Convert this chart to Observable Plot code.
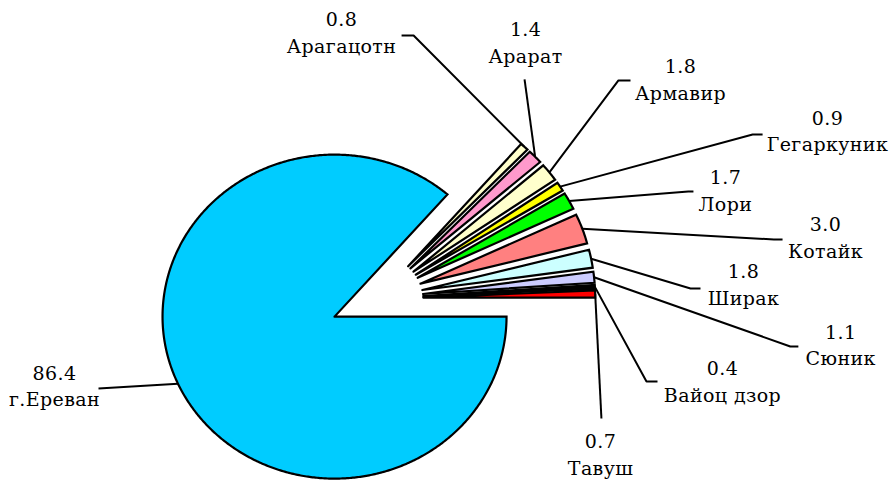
<!DOCTYPE html>
<html>
<head>
<meta charset="utf-8">
<script src="https://cdn.jsdelivr.net/npm/d3@7"></script>
<script src="https://cdn.jsdelivr.net/npm/@observablehq/plot@0.6"></script>
<style>
  html, body { margin: 0; padding: 0; background: #fff; }
  #chart svg text { letter-spacing: 0.4px; }
</style>
</head>
<body>
<div id="chart"></div>
<script>
// ---- data ----
const names = ["г.Ереван", "Арагацотн", "Арарат", "Армавир", "Гегаркуник", "Лори", "Котайк", "Ширак", "Сюник", "Вайоц дзор", "Тавуш"];
const values = [86.4, 0.8, 1.4, 1.8, 0.9, 1.7, 3.0, 1.8, 1.1, 0.4, 0.7];
const colors = ["#00CCFF", "#FFFFCC", "#FF99CC", "#FFFFCC", "#FFFF00", "#00FF00", "#FF8080", "#CCFFFF", "#CCCCFF", "#000000", "#FF0000"];

// ---- layout (pie units, radius = 1) ----
const explode = 0.27;
// label block centres
const labelAt = [[-1.874, -0.530], [-0.205, 1.652], [0.865, 1.590], [1.766, 1.359], [2.620, 1.044], [2.027, 0.679], [2.609, 0.389], [2.132, 0.096], [2.697, -0.277], [2.010, -0.500], [1.301, -0.950]];
// leader start [x, y, horizontal elbow]
const leaderFrom = [[-1.618, -0.556, 0], [0.144, 1.623, 0.07], [0.859, 1.352, 0], [1.475, 1.346, -0.07], [2.243, 1.012, -0.058], [1.841, 0.660, -0.03], [2.359, 0.364, -0.05], [1.882, 0.062, -0.058], [2.451, -0.296, -0.047], [1.632, -0.512, -0.064], [1.306, -0.741, 0]];

const table = names.map((name, i) => ({name, value: values[i], color: colors[i]}));
const arcs = d3.pie().sort(null).value(d => d.value)
  .startAngle(Math.PI / 2).endAngle(Math.PI / 2 + 2 * Math.PI)(table);

// point on a pie (clockwise-from-north angle) -> pie units, y up
const pt = (a, r, ox, oy) => ({x: ox + r * Math.sin(a), y: oy + r * Math.cos(a)});

const slicePts = [];
const leaderPts = [];
arcs.forEach((arc, i) => {
  const name = arc.data.name;
  const mid = (arc.startAngle + arc.endAngle) / 2;
  const ox = explode * Math.sin(mid), oy = explode * Math.cos(mid);
  slicePts.push({name, x: ox, y: oy});
  const n = Math.max(2, Math.ceil((arc.endAngle - arc.startAngle) / (Math.PI / 360)));
  for (let k = 0; k <= n; k++) {
    const a = arc.startAngle + (arc.endAngle - arc.startAngle) * k / n;
    slicePts.push({name, ...pt(a, 1, ox, oy)});
  }
  slicePts.push({name, x: ox, y: oy});
  // leader line
  const [lx, ly, el] = leaderFrom[i];
  leaderPts.push({name, x: lx, y: ly});
  if (el !== 0) leaderPts.push({name, x: lx + el, y: ly});
  leaderPts.push({name, ...pt(mid, 1 + explode, 0, 0)});
});

const labels = table.map((d, i) => ({name: d.name, x: labelAt[i][0], y: labelAt[i][1], text: d.value.toFixed(1) + "\n" + d.name}));

// scales: ellipse as in the reference (172 px horizontally, 162 px vertically per unit)
const W = 894, H = 480, cx = 376.3, cy = 298, sx = 172, sy = 162;

const chart = Plot.plot({
  width: W,
  height: H,
  margin: 0,
  x: {domain: [-cx / sx, (W - cx) / sx], axis: null},
  y: {domain: [(cy - H) / sy, cy / sy], axis: null},
  color: {domain: names, range: colors},
  marks: [
    Plot.line(leaderPts, {x: "x", y: "y", z: "name", stroke: "black", strokeWidth: 2, strokeLinejoin: "miter", strokeLinecap: "butt", curve: "linear"}),
    Plot.line(slicePts, {x: "x", y: "y", z: "name", fill: "name", stroke: "black", strokeWidth: 2.2, strokeLinejoin: "miter", strokeMiterlimit: 4, curve: "linear"}),
    Plot.text(labels, {x: "x", y: "y", text: "text", fontFamily: "DejaVu Serif", fontSize: 19, lineHeight: 1.42, fill: "black"})
  ]
});
document.getElementById("chart").appendChild(chart);
</script>
</body>
</html>
